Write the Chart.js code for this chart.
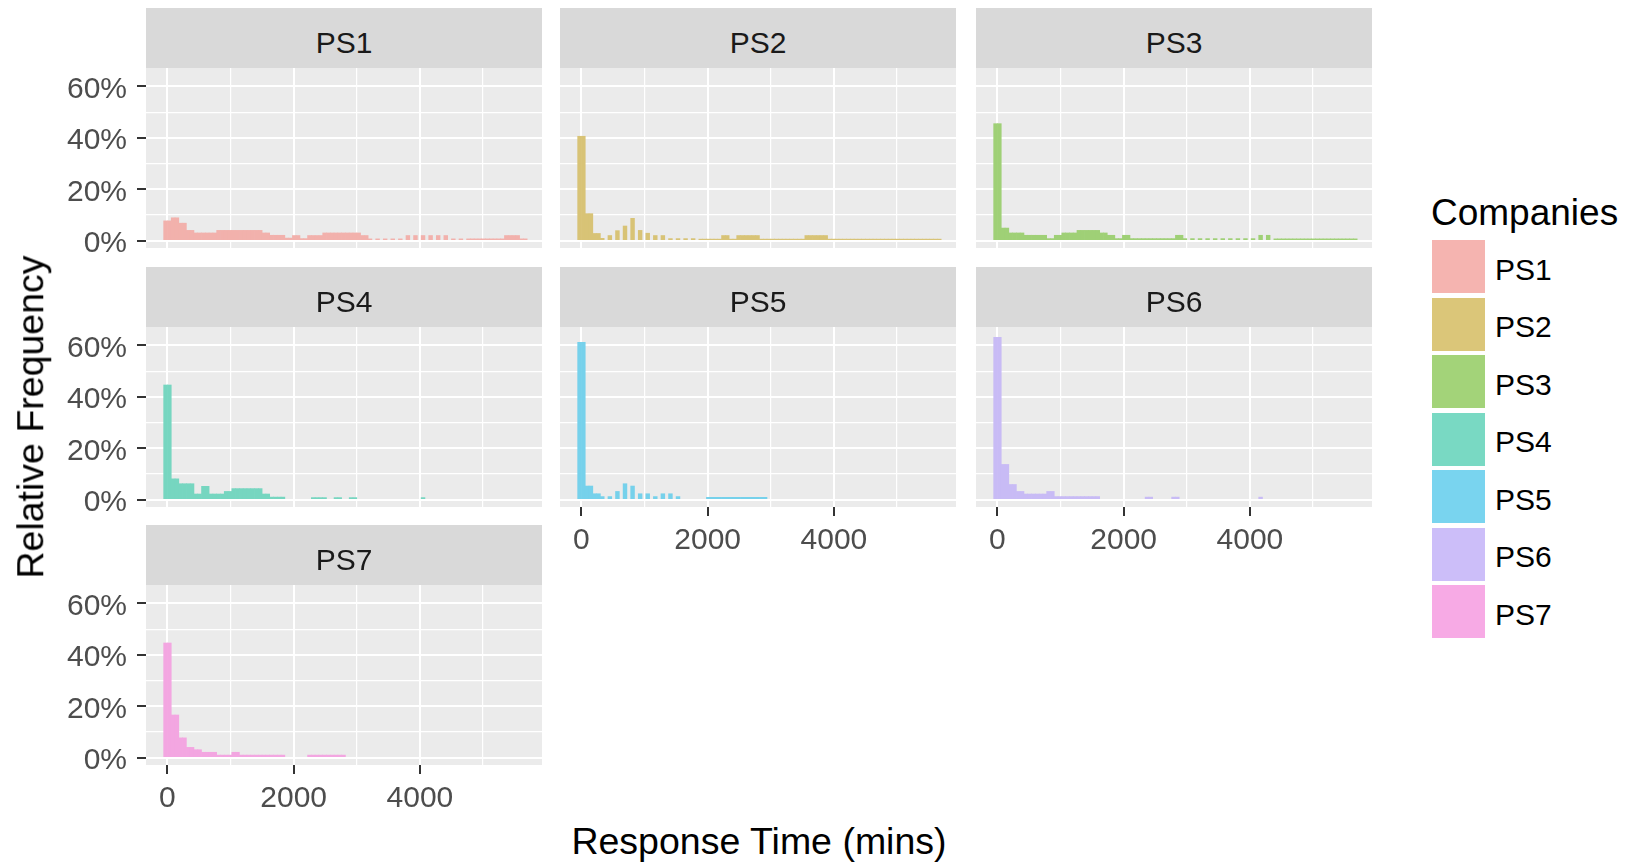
<!DOCTYPE html>
<html>
<head>
<meta charset="utf-8">
<script src="https://cdn.jsdelivr.net/npm/chart.js@4.4.0/dist/chart.umd.min.js"></script>
<style>
html,body{margin:0;padding:0;background:#fff;}
#wrap{position:relative;width:1629px;height:863px;overflow:hidden;font-family:"Liberation Sans",Arial,sans-serif;}
.strip{position:absolute;background:#D9D9D9;}
.strip span{position:absolute;left:0;right:0;top:20px;text-align:center;font-size:30px;line-height:30px;color:#1A1A1A;white-space:nowrap;}
canvas{position:absolute;}
.txt{position:absolute;white-space:nowrap;color:#000;}
.key{position:absolute;width:53px;height:53px;}
</style>
</head>
<body>
<div id="wrap"></div>
<script>
// ---------------- data ----------------
const companies = ['PS1','PS2','PS3','PS4','PS5','PS6','PS7'];
const hueColors = ['#F8766D','#C49A00','#53B400','#00C094','#00B6EB','#A58AFF','#FB61D7'];
const BIN_WIDTH = 60;          // minutes per histogram bin
const FIRST_BIN_CENTER = -30;  // centre of first bin

// relative frequency (%) per bin
const PS1 = [7.7,7.7,8.9,8.9,6.8,6.8,4.0,4.0,3.0,3.0,
  3.0,3.0,3.0,3.0,4.0,4.0,4.0,4.0,4.0,4.0,
  4.0,4.0,4.0,4.0,4.0,4.0,3.0,3.0,2.1,2.1,
  2.1,2.1,1.0,1.0,2.0,2.0,0.8,0.8,2.0,2.0,
  2.0,2.0,3.0,3.0,3.0,3.0,3.0,3.0,3.0,3.0,
  3.0,3.0,2.0,2.0,0.7,0,0.7,0,0.7,0,
  0.7,0,0.7,0,2.0,0,2.0,0,2.0,0,
  2.0,0,2.0,0,2.0,0,0.7,0,0.7,0,
  0.7,0.7,0.7,0.7,0.7,0.7,0.7,0.7,0.7,0.7,
  2.0,2.0,2.0,2.0,0.7,0.7];
const PS2 = [40.6,40.6,10.5,10.5,2.8,2.8,0.9,0,2.0,0,
  3.9,0,5.7,0,8.7,0,4.0,0,2.9,0,
  2.0,0,2.0,0,0.8,0,0.8,0,0.8,0,
  0.8,0,0.6,0.6,0.6,0.6,0.6,0.6,2.0,2.0,
  0.6,0.6,2.0,2.0,2.0,2.0,2.0,2.0,0.6,0.6,
  0.6,0.6,0.6,0.6,0.6,0.6,0.6,0.6,0.6,0.6,
  2.0,2.0,2.0,2.0,2.0,2.0,0.6,0.6,0.6,0.6,
  0.6,0.6,0.6,0.6,0.6,0.6,0.6,0.6,0.6,0.6,
  0.6,0.6,0.6,0.6,0.6,0.6,0.6,0.6,0.6,0.6,
  0.6,0.6,0.6,0.6,0.6,0.6];
const PS3 = [45.5,45.5,4.9,4.9,3.0,3.0,3.0,3.0,2.1,2.1,
  2.1,2.1,2.1,2.1,0.8,0.8,2.1,2.1,3.0,3.0,
  3.0,3.0,4.0,4.0,4.0,4.0,4.0,4.0,3.0,3.0,
  2.1,2.1,0.8,0.8,2.1,2.1,0.8,0.8,0.8,0.8,
  0.8,0.8,0.8,0.8,0.8,0.8,0.8,0.8,2.1,2.1,
  0.8,0,0.8,0,0.8,0,0.8,0,0.8,0,
  0.8,0,0.8,0,0.8,0,0.8,0,0.8,0,
  2.1,0,2.1,0,0.7,0.7,0.7,0.7,0.7,0.7,
  0.7,0.7,0.7,0.7,0.7,0.7,0.7,0.7,0.7,0.7,
  0.7,0.7,0.7,0.7,0.7,0.7];
const PS4 = [44.6,44.6,8.1,8.1,6.2,6.2,6.2,6.2,2.2,2.2,
  5.2,5.2,2.2,2.2,2.2,2.2,3.2,3.2,4.3,4.3,
  4.3,4.3,4.3,4.3,4.3,4.3,2.2,2.2,1.0,1.0,
  1.0,1.0,0,0,0,0,0,0,0,0.8,
  0.8,0.8,0.8,0,0,0.8,0.8,0,0,0.8,
  0.8,0,0,0,0,0,0,0,0,0,
  0,0,0,0,0,0,0,0,0.8,0,
  0,0,0,0,0,0,0,0,0,0,
  0,0,0,0,0,0,0,0,0,0,
  0,0,0,0,0,0];
const PS5 = [61.2,61.2,5.3,5.3,2.3,2.3,1.2,0,1.2,0,
  3.2,0,6.2,0,5.3,0,2.3,0,2.3,0,
  1.2,0,2.3,0,2.3,0,1.2,0,0,0,
  0,0,0,0,0.9,0.9,0.9,0.9,0.9,0.9,
  0.9,0.9,0.9,0.9,0.9,0.9,0.9,0.9,0.9,0.9,
  0,0,0,0,0,0,0,0,0,0,
  0,0,0,0,0,0,0,0,0,0,
  0,0,0,0,0,0,0,0,0,0,
  0,0,0,0,0,0,0,0,0,0,
  0,0,0,0,0,0];
const PS6 = [63.1,63.1,13.7,13.7,5.9,5.9,3.2,3.2,2.2,2.2,
  2.2,2.2,2.2,2.2,3.2,3.2,1.2,1.2,1.2,1.2,
  1.2,1.2,1.2,1.2,1.2,1.2,1.2,1.2,0,0,
  0,0,0,0,0,0,0,0,0,0,
  1.0,1.0,0,0,0,0,0,1.0,1.0,0,
  0,0,0,0,0,0,0,0,0,0,
  0,0,0,0,0,0,0,0,0,0,
  1.0,0,0,0,0,0,0,0,0,0,
  0,0,0,0,0,0,0,0,0,0,
  0,0,0,0,0,0];
const PS7 = [44.6,44.6,16.6,16.6,7.7,7.7,4.0,4.0,3.1,3.1,
  2.1,2.1,2.1,2.1,1.0,1.0,1.0,1.0,2.1,2.1,
  1.0,1.0,1.0,1.0,1.0,1.0,1.0,1.0,1.0,1.0,
  1.0,1.0,0,0,0,0,0,0,1.0,1.0,
  1.0,1.0,1.0,1.0,1.0,1.0,1.0,1.0,0,0,
  0,0,0,0,0,0,0,0,0,0,
  0,0,0,0,0,0,0,0,0,0,
  0,0,0,0,0,0,0,0,0,0,
  0,0,0,0,0,0,0,0,0,0,
  0,0,0,0,0,0];
const seriesValues = [PS1, PS2, PS3, PS4, PS5, PS6, PS7];

const xMajorTicks = [0, 2000, 4000];
const xMinorTicks = [1000, 3000, 5000];
const yMajorTicks = [0, 20, 40, 60];
const yMinorTicks = [10, 30, 50];
const X_RANGE = [-340, 5935];
const Y_RANGE = [-2.85, 67.15];

const xTitle = 'Response Time (mins)';
const yTitle = 'Relative Frequency';
const legendTitle = 'Companies';

// ---------------- layout / style ----------------
const COL_LEFT = [146, 560, 976];
const ROW_TOP = [68, 327, 585];
const PANEL_W = 396, PANEL_H = 180, STRIP_H = 60;
const Y_AXIS_W = 146, X_AXIS_H = 60, X_AXIS_BLANK_H = 22;
const PANEL_BG = '#EBEBEB', GRID = '#FFFFFF', TICK_COLOR = '#333333', TEXT_GREY = '#4D4D4D';
const FONT = '"Liberation Sans", Arial, sans-serif';
const ALPHA = 0.5;

Chart.defaults.font.family = FONT;

function hexRgb(h){ h = h.replace('#',''); return [0,2,4].map(i=>parseInt(h.substr(i,2),16)); }
function blend(hex, a, bg){
  const c = hexRgb(hex), b = hexRgb(bg);
  return 'rgb(' + c.map((v,i)=>Math.round(v*a + b[i]*(1-a))).join(',') + ')';
}

const binCenters = PS1.map((_, i) => FIRST_BIN_CENTER + i * BIN_WIDTH);
const xTickValues = [...xMajorTicks, ...xMinorTicks].sort((a,b)=>a-b);
const yTickValues = [...yMajorTicks, ...yMinorTicks].sort((a,b)=>a-b);

const wrap = document.getElementById('wrap');

const panelBg = {
  id: 'panelBg',
  beforeDraw(chart){
    const {ctx, chartArea: a} = chart;
    ctx.save();
    ctx.fillStyle = PANEL_BG;
    ctx.fillRect(a.left, a.top, a.right - a.left, a.bottom - a.top);
    ctx.restore();
  }
};

companies.forEach((name, i) => {
  const col = i % 3, row = Math.floor(i / 3);
  const showY = col === 0;
  const showX = i + 3 >= companies.length;
  const L = COL_LEFT[col], T = ROW_TOP[row];
  const xAxisH = showX ? X_AXIS_H : X_AXIS_BLANK_H;

  // strip
  const strip = document.createElement('div');
  strip.className = 'strip';
  strip.style.left = L + 'px'; strip.style.top = (T - STRIP_H) + 'px';
  strip.style.width = PANEL_W + 'px'; strip.style.height = STRIP_H + 'px';
  const st = document.createElement('span'); st.textContent = name; strip.appendChild(st);
  wrap.appendChild(strip);

  const cw = (showY ? Y_AXIS_W : 0) + PANEL_W;
  const ch = PANEL_H + xAxisH;
  const canvas = document.createElement('canvas');
  canvas.width = cw; canvas.height = ch;
  canvas.style.width = cw + 'px'; canvas.style.height = ch + 'px';
  canvas.style.left = (L - (showY ? Y_AXIS_W : 0)) + 'px';
  canvas.style.top = T + 'px';
  wrap.appendChild(canvas);

  const vals = seriesValues[i];
  new Chart(canvas, {
    type: 'bar',
    data: {
      datasets: [{
        label: name,
        // empty bins are left out (null) so nothing is drawn for them
        data: binCenters.map((x, j) => ({x: x, y: vals[j] > 0 ? vals[j] : null})),
        backgroundColor: blend(hueColors[i], ALPHA, PANEL_BG),
        borderWidth: 0,
        barPercentage: 1,
        categoryPercentage: 1
      }]
    },
    options: {
      responsive: false,
      animation: false,
      devicePixelRatio: 1,
      events: [],
      layout: {padding: 0},
      plugins: {legend: {display: false}, tooltip: {enabled: false}},
      scales: {
        x: {
          type: 'linear', min: X_RANGE[0], max: X_RANGE[1], bounds: 'data', offset: false,
          afterBuildTicks: s => { s.ticks = xTickValues.map(v => ({value: v})); },
          afterFit: s => { s.height = xAxisH; s.paddingLeft = 0; s.paddingRight = 0; s.paddingTop = 0; s.paddingBottom = 0; },
          border: {display: false},
          grid: {
            offset: false, color: GRID,
            lineWidth: c => (c.tick && xMajorTicks.includes(c.tick.value)) ? 2 : 1.2,
            drawTicks: showX, tickLength: 9, tickWidth: 2,
            tickColor: c => (c.tick && xMajorTicks.includes(c.tick.value)) ? TICK_COLOR : 'rgba(0,0,0,0)'
          },
          ticks: {
            display: showX, autoSkip: false, maxRotation: 0, minRotation: 0, padding: 7,
            color: TEXT_GREY, font: {size: 30, family: FONT},
            callback: v => xMajorTicks.includes(v) ? String(v) : ''
          }
        },
        y: {
          type: 'linear', min: Y_RANGE[0], max: Y_RANGE[1], bounds: 'data',
          afterBuildTicks: s => { s.ticks = yTickValues.map(v => ({value: v})); },
          afterFit: s => { s.width = showY ? Y_AXIS_W : 0; s.paddingLeft = 0; s.paddingRight = 0; s.paddingTop = 0; s.paddingBottom = 0; },
          border: {display: false},
          grid: {
            color: GRID,
            lineWidth: c => (c.tick && yMajorTicks.includes(c.tick.value)) ? 2 : 1.2,
            drawTicks: showY, tickLength: 9, tickWidth: 2,
            tickColor: c => (c.tick && yMajorTicks.includes(c.tick.value)) ? TICK_COLOR : 'rgba(0,0,0,0)'
          },
          ticks: {
            display: showY, autoSkip: false, padding: 10, labelOffset: 3,
            color: TEXT_GREY, font: {size: 30, family: FONT},
            callback: v => yMajorTicks.includes(v) ? v + '%' : ''
          }
        }
      }
    },
    plugins: [panelBg]
  });
});

// axis titles
function addText(txt, left, top, size, extra){
  const d = document.createElement('div');
  d.className = 'txt';
  d.textContent = txt;
  d.style.left = left + 'px'; d.style.top = top + 'px';
  d.style.fontSize = size + 'px'; d.style.lineHeight = size + 'px';
  if (extra) Object.assign(d.style, extra);
  wrap.appendChild(d);
  return d;
}
addText(xTitle, 759, 823, 37.5, {transform: 'translateX(-50%)'});
addText(yTitle, 31, 417, 37.5, {transform: 'translate(-50%,-50%) rotate(-90deg)'});

// legend
addText(legendTitle, 1431, 194, 37);
companies.forEach((name, i) => {
  const k = document.createElement('div');
  k.className = 'key';
  k.style.left = '1432px';
  k.style.top = (240 + 57.5 * i) + 'px';
  k.style.background = blend(hueColors[i], ALPHA, '#F2F2F2');
  wrap.appendChild(k);
  addText(name, 1495, 280 + 57.5 * i - 25.4, 30, {color: '#000'});
});
</script>
</body>
</html>
